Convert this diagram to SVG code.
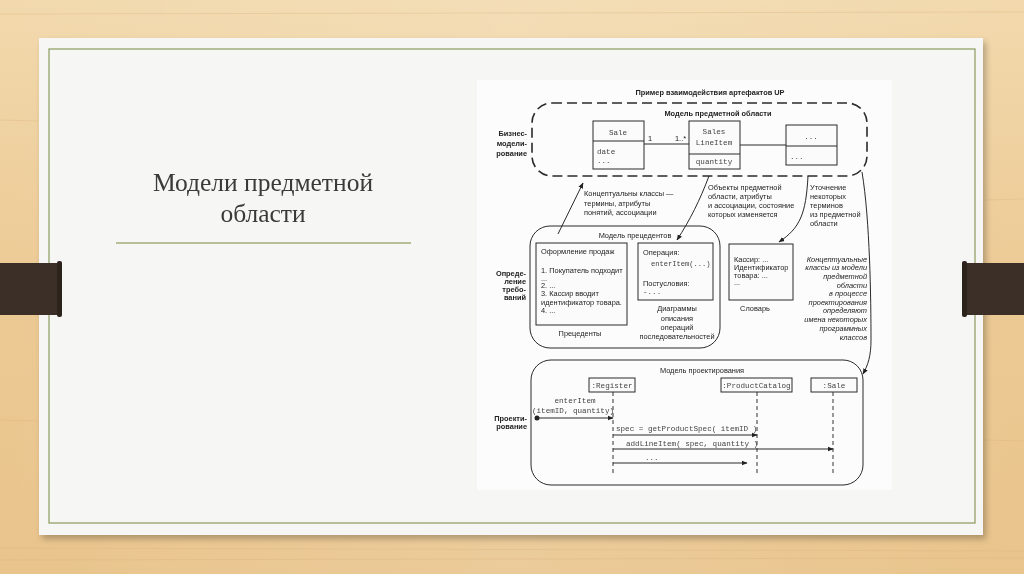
<svg xmlns="http://www.w3.org/2000/svg" width="1024" height="574" viewBox="0 0 1024 574">
<defs>
<linearGradient id="wood" x1="0" y1="0" x2="0" y2="1">
<stop offset="0" stop-color="#f2d9ad"/>
<stop offset="0.5" stop-color="#ecca94"/>
<stop offset="1" stop-color="#e9c48c"/>
</linearGradient>
<linearGradient id="woodH" x1="0" y1="0" x2="1" y2="0">
<stop offset="0" stop-color="#ffffff" stop-opacity="0"/>
<stop offset="0.5" stop-color="#ffffff" stop-opacity="0.12"/>
<stop offset="1" stop-color="#ffffff" stop-opacity="0"/>
</linearGradient>
<filter id="shadow" x="-5%" y="-5%" width="110%" height="115%">
<feGaussianBlur stdDeviation="3"/>
</filter>
<marker id="ah" viewBox="0 0 10 10" refX="9" refY="5" markerWidth="6" markerHeight="6" orient="auto" markerUnits="userSpaceOnUse">
<path d="M0,1 L10,5 L0,9 Z" fill="#222"/>
</marker>
<style>
.sans{font-family:"Liberation Sans",Arial,sans-serif;fill:#222;font-size:7.4px}
.b{font-weight:bold}
.mono{font-family:"Liberation Mono","DejaVu Sans Mono",monospace;fill:#444;font-size:7.6px}
.it{font-style:italic}
.ln{fill:none;stroke:#2a2a2a;stroke-width:1}
.box{fill:#fbfbfb;stroke:#2a2a2a;stroke-width:1}
.life{fill:none;stroke:#333;stroke-width:1;stroke-dasharray:4 3}
.c{text-anchor:middle}
.r{text-anchor:end}
.title{font-family:"Liberation Serif","DejaVu Serif",serif;font-size:25.5px;fill:#3a3a3a;text-anchor:middle}
</style>
</defs>

<g opacity="0.999">
<!-- background -->
<rect x="0" y="0" width="1024" height="574" fill="url(#wood)"/>
<rect x="0" y="0" width="1024" height="574" fill="url(#woodH)"/>
<g stroke="#d9b27a" stroke-opacity="0.35" stroke-width="1">
<line x1="0" y1="14" x2="1024" y2="12"/>
<line x1="0" y1="548" x2="1024" y2="551"/>
<line x1="0" y1="560" x2="1024" y2="558"/>
<line x1="0" y1="120" x2="38" y2="121"/>
<line x1="985" y1="200" x2="1024" y2="199"/>
<line x1="0" y1="420" x2="38" y2="421"/>
<line x1="985" y1="440" x2="1024" y2="441"/>
</g>

<!-- slide -->
<rect x="42" y="42" width="944" height="497" fill="#000" opacity="0.25" filter="url(#shadow)"/>
<rect x="39" y="38" width="944" height="497" fill="#f6f6f4"/>
<rect x="49" y="49" width="926" height="474" fill="none" stroke="#8a9a5b" stroke-width="1.2"/>

<!-- title -->
<g id="title">
<text class="title" x="263" y="191">Модели предметной</text>
<text class="title" x="263" y="222">области</text>
<line x1="116" y1="243" x2="411" y2="243" stroke="#a3ad78" stroke-width="1.6"/>
</g>

<!-- diagram image area -->
<rect x="477" y="80" width="415" height="410" fill="#fcfcfc"/>

<text class="sans b c" x="710" y="95">Пример взаимодействия артефактов UP</text>

<!-- side labels -->
<g id="lane-labels">
<text class="sans b r" x="527" y="136">Бизнес-</text>
<text class="sans b r" x="527" y="146">модели-</text>
<text class="sans b r" x="527" y="156">рование</text>
<text class="sans b r" x="526" y="276">Опреде-</text>
<text class="sans b r" x="526" y="284">ление</text>
<text class="sans b r" x="526" y="292">требо-</text>
<text class="sans b r" x="526" y="300">ваний</text>
<text class="sans b r" x="527" y="421">Проекти-</text>
<text class="sans b r" x="527" y="429">рование</text>
</g>

<!-- domain model -->
<g id="domain-model">
<rect x="532" y="103" width="335" height="73" rx="20" fill="none" stroke="#2a2a2a" stroke-width="1.6" stroke-dasharray="10 5"/>
<text class="sans b c" x="718" y="116">Модель предметной области</text>
</g>
<g id="sale-class">
<rect class="box" x="593" y="121" width="51" height="48"/>
<line class="ln" x1="593" y1="141" x2="644" y2="141"/>
<text class="mono c" x="618" y="135">Sale</text>
<text class="mono" x="597" y="154">date</text>
<text class="mono" x="597" y="163">...</text>
</g>
<g id="saleslineitem-class">
<rect class="box" x="689" y="121" width="51" height="48"/>
<line class="ln" x1="689" y1="154" x2="740" y2="154"/>
<text class="mono c" x="714" y="134">Sales</text>
<text class="mono c" x="714" y="145">LineItem</text>
<text class="mono c" x="714" y="164">quantity</text>
</g>
<g id="other-class">
<rect class="box" x="786" y="125" width="51" height="40"/>
<line class="ln" x1="786" y1="146" x2="837" y2="146"/>
<text class="mono c" x="811" y="139">...</text>
<text class="mono" x="790" y="159">...</text>
</g>

<!-- use case model -->
<g id="usecase-model">
<rect x="530" y="226" width="190" height="122" rx="20" fill="none" stroke="#2a2a2a" stroke-width="1"/>
<text class="sans c" x="635" y="238">Модель прецедентов</text>
</g>
<g id="usecase">
<rect class="box" x="536" y="243" width="91" height="82"/>
<text class="sans" x="541" y="254">Оформление продаж</text>
<text class="sans" x="541" y="273">1. Покупатель подходит</text>
<text class="sans" x="541" y="281">...</text>
<text class="sans" x="541" y="288">2. ...</text>
<text class="sans" x="541" y="296">3. Кассир вводит</text>
<text class="sans" x="541" y="305">идентификатор товара.</text>
<text class="sans" x="541" y="313">4. ...</text>
<text class="sans c" x="580" y="336">Прецеденты</text>
</g>
<g id="operation">
<rect class="box" x="638" y="243" width="75" height="57"/>
<text class="sans" x="643" y="255">Операция:</text>
<text class="mono" x="651" y="266" style="font-size:7.1px">enterItem(...)</text>
<text class="sans" x="643" y="286">Постусловия:</text>
<text class="mono" x="643" y="294">-...</text>
<text class="sans c" x="677" y="311">Диаграммы</text>
<text class="sans c" x="677" y="321">описания</text>
<text class="sans c" x="677" y="330">операций</text>
<text class="sans c" x="677" y="339">последовательностей</text>
</g>
<g id="glossary">
<rect class="box" x="729" y="244" width="64" height="56"/>
<text class="sans" x="734" y="262">Кассир: ...</text>
<text class="sans" x="734" y="270">Идентификатор</text>
<text class="sans" x="734" y="278">товара: ...</text>
<text class="sans" x="734" y="285">...</text>
<text class="sans c" x="755" y="311">Словарь</text>
</g>

<!-- design model -->
<g id="design-model">
<rect x="531" y="360" width="332" height="125" rx="20" fill="none" stroke="#2a2a2a" stroke-width="1"/>
<text class="sans c" x="702" y="373">Модель проектирования</text>
</g>
<g id="register">
<rect class="box" x="589" y="378" width="46" height="14"/>
<text class="mono c" x="612" y="388">:Register</text>
<line class="life" x1="613" y1="392" x2="613" y2="474"/>
</g>
<g id="productcatalog">
<rect class="box" x="721" y="378" width="71" height="14"/>
<text class="mono c" x="756.5" y="388">:ProductCatalog</text>
<line class="life" x1="757" y1="392" x2="757" y2="474"/>
</g>
<g id="sale-obj">
<rect class="box" x="811" y="378" width="46" height="14"/>
<text class="mono c" x="834" y="388">:Sale</text>
<line class="life" x1="833" y1="392" x2="833" y2="474"/>
</g>

<!-- connectors -->
<g id="connectors">
<line class="ln" x1="644" y1="144" x2="689" y2="144"/>
<text class="sans" x="648" y="141">1</text>
<text class="sans" x="675" y="141">1..*</text>
<line class="ln" x1="740" y1="145" x2="786" y2="145"/>

<path class="ln" d="M558 234 L583 183" marker-end="url(#ah)"/>
<path class="ln" d="M709 176 C 700 200, 690 220, 677 240" marker-end="url(#ah)"/>
<path class="ln" d="M808 176 C 806 214, 800 228, 779 242" marker-end="url(#ah)"/>
<path class="ln" d="M862 172 C 870 220, 871 300, 871 340 C 871 356, 868 365, 863 374" marker-end="url(#ah)"/>

<circle cx="537" cy="418" r="2.5" fill="#222"/>
<line class="ln" x1="537" y1="418" x2="613" y2="418" marker-end="url(#ah)"/>
<line class="ln" x1="613" y1="435" x2="757" y2="435" marker-end="url(#ah)"/>
<line class="ln" x1="613" y1="449" x2="833" y2="449" marker-end="url(#ah)"/>
<line class="ln" x1="613" y1="463" x2="747" y2="463" marker-end="url(#ah)"/>
</g>

<!-- connector labels -->
<g id="connector-labels">
<text class="sans" x="584" y="196">Концептуальны классы —</text>
<text class="sans" x="584" y="206">термины, атрибуты</text>
<text class="sans" x="584" y="215">понятий, ассоциации</text>

<text class="sans" x="708" y="190">Объекты предметной</text>
<text class="sans" x="708" y="199">области, атрибуты</text>
<text class="sans" x="708" y="208">и ассоциации, состояние</text>
<text class="sans" x="708" y="217">которых изменяется</text>

<text class="sans" x="810" y="190">Уточнение</text>
<text class="sans" x="810" y="199">некоторых</text>
<text class="sans" x="810" y="208">терминов</text>
<text class="sans" x="810" y="217">из предметной</text>
<text class="sans" x="810" y="226">области</text>

<text class="sans it r" x="867" y="262">Концептуальные</text>
<text class="sans it r" x="867" y="270">классы из модели</text>
<text class="sans it r" x="867" y="279">предметной</text>
<text class="sans it r" x="867" y="288">области</text>
<text class="sans it r" x="867" y="296">в процессе</text>
<text class="sans it r" x="867" y="305">проектирования</text>
<text class="sans it r" x="867" y="313">определяют</text>
<text class="sans it r" x="867" y="322">имена некоторых</text>
<text class="sans it r" x="867" y="331">программных</text>
<text class="sans it r" x="867" y="340">классов</text>

<text class="mono c" x="575" y="403">enterItem</text>
<text class="mono c" x="573" y="413">(itemID, quantity)</text>
<text class="mono" x="616" y="431">spec = getProductSpec( itemID )</text>
<text class="mono" x="626" y="446">addLineItem( spec, quantity )</text>
<text class="mono" x="645" y="460">...</text>
</g>

<!-- binder bars -->
<g id="bars">
<rect x="0" y="263" width="60" height="52" fill="#3b2f27"/>
<rect x="57" y="261" width="5" height="56" rx="2" fill="#2c231d"/>
<rect x="964" y="263" width="60" height="52" fill="#3b2f27"/>
<rect x="962" y="261" width="5" height="56" rx="2" fill="#2c231d"/>
</g>
</g>
</svg>
